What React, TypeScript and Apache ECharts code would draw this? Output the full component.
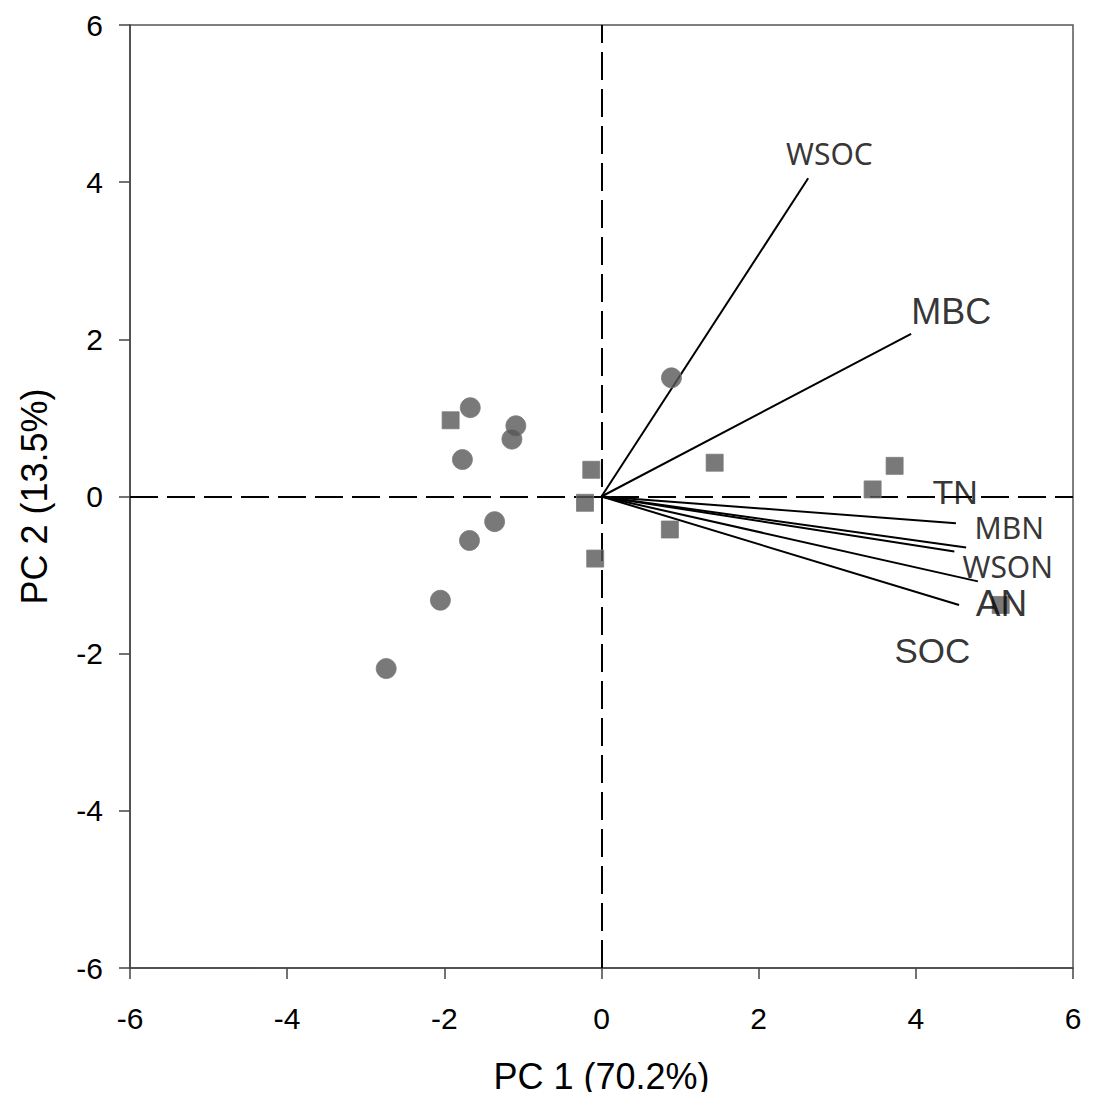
import React, { useEffect, useRef } from "react";
import * as echarts from "echarts";

// Sample scores (PC1, PC2)
const circleScores: [number, number][] = [
  [0.89, 1.51],
  [-1.67, 1.13],
  [-1.09, 0.9],
  [-1.14, 0.73],
  [-1.77, 0.47],
  [-1.36, -0.32],
  [-1.68, -0.56],
  [-2.05, -1.32],
  [-2.74, -2.19],
];
const squareScores: [number, number][] = [
  [-1.92, 0.97],
  [-0.13, 0.34],
  [-0.21, -0.08],
  [-0.08, -0.79],
  [1.44, 0.43],
  [3.73, 0.39],
  [3.45, 0.09],
  [0.87, -0.42],
  [5.08, -1.38],
];

// Variable loadings (vector end points)
const vectorEnds: [number, number][] = [
  [2.63, 4.05],
  [3.94, 2.07],
  [4.51, -0.34],
  [4.64, -0.65],
  [4.49, -0.7],
  [4.79, -1.08],
  [4.55, -1.38],
];

// Variable labels and their anchor points (data units)
const labelNames = ["WSOC", "MBC", "TN", "MBN", "WSON", "AN", "SOC"];
const labelPoints: [number, number][] = [
  [2.9, 4.37],
  [4.45, 2.35],
  [4.5, 0.06],
  [5.19, -0.4],
  [5.17, -0.89],
  [5.09, -1.36],
  [4.21, -1.96],
];

const xTitle = "PC 1 (70.2%)";
const yTitle = "PC 2 (13.5%)";

const bigLabels = new Set(["MBC", "TN", "AN", "SOC"]);
const bigSize: Record<string, number> = { MBC: 36, TN: 34, AN: 37, SOC: 35 };

export default function App() {
  const ref = useRef<HTMLDivElement>(null);
  useEffect(() => {
    if (!ref.current) return;
    const chart = echarts.init(ref.current, undefined, { renderer: "svg" });
    const arial = "'Liberation Sans', Arial, sans-serif";
    const axisCommon = {
      type: "value" as const,
      min: -6,
      max: 6,
      interval: 2,
      splitLine: { show: false },
      axisLine: { show: true, onZero: false, lineStyle: { color: "#444", width: 1.5 } },
      axisTick: { show: true, inside: false, length: 11, lineStyle: { color: "#444", width: 1.5 } },
      nameLocation: "middle" as const,
      nameTextStyle: { fontFamily: arial, fontSize: 36, color: "#000" },
    };
    const vectorSeries = vectorEnds.map((end) => ({
      type: "line" as const,
      data: [[0, 0], end],
      symbol: "none",
      silent: true,
      lineStyle: { color: "#000", width: 2 },
      z: 3,
    }));
    chart.setOption({
      animation: false,
      grid: {
        left: 130,
        right: 23,
        top: 25,
        bottom: 132,
        show: true,
        borderColor: "#555",
        borderWidth: 1.5,
      },
      xAxis: {
        ...axisCommon,
        name: xTitle,
        nameGap: 90,
        axisLabel: { fontFamily: arial, fontSize: 30, color: "#000", margin: 35 },
      },
      yAxis: {
        ...axisCommon,
        name: yTitle,
        nameGap: 78,
        axisLabel: { fontFamily: arial, fontSize: 30, color: "#000", margin: 27 },
      },
      series: [
        {
          type: "line",
          data: [],
          markLine: {
            silent: true,
            symbol: "none",
            label: { show: false },
            lineStyle: { color: "#000", width: 2, type: [28, 9] },
            data: [{ xAxis: 0 }, { yAxis: 0 }],
          },
        },
        ...vectorSeries,
        {
          type: "scatter",
          data: circleScores,
          symbol: "circle",
          symbolSize: 20,
          itemStyle: { color: "#585858", borderColor: "#7a7a7a", borderWidth: 1 },
          z: 5,
        },
        {
          type: "scatter",
          data: squareScores,
          symbol: "rect",
          symbolSize: 17,
          itemStyle: { color: "#585858", borderColor: "#7a7a7a", borderWidth: 1 },
          z: 5,
        },
        {
          type: "scatter",
          symbol: "circle",
          symbolSize: 1,
          itemStyle: { color: "rgba(0,0,0,0)" },
          silent: true,
          z: 6,
          data: labelNames.map((name, i) => ({
            value: labelPoints[i],
            name,
            label: {
              show: true,
              formatter: name,
              position: "inside",
              align: "center",
              verticalAlign: "middle",
              color: "#000",
              fontFamily: bigLabels.has(name) ? arial : "'Noto Sans', 'Open Sans', sans-serif",
              fontSize: bigLabels.has(name) ? bigSize[name] : 30,
              lineHeight: bigLabels.has(name) ? bigSize[name] : 30,
            },
          })),
        },
      ],
    });
    return () => chart.dispose();
  }, []);
  return <div ref={ref} style={{ width: 1096, height: 1100, margin: -8 }} />;
}
